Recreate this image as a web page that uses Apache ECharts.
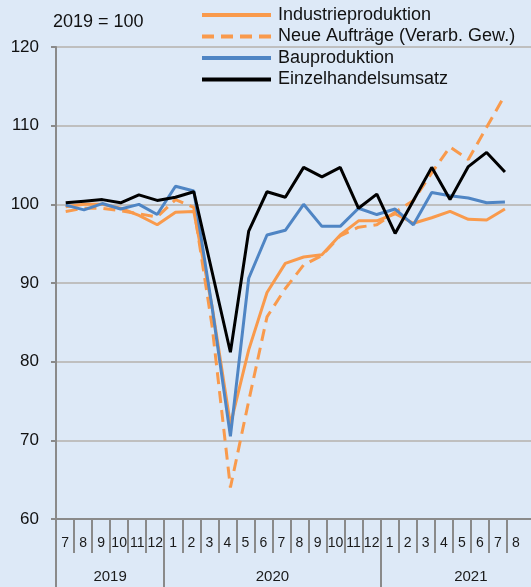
<!DOCTYPE html>
<html>
<head>
<meta charset="utf-8">
<script src="https://cdn.jsdelivr.net/npm/echarts@6/dist/echarts.min.js"></script>
<style>
  html, body { margin: 0; padding: 0; background: #dde9f7; }
  #chart { width: 531px; height: 587px; }
</style>
</head>
<body>
<div id="chart"></div>
<script>
// Monatsachse (Juli 2019 bis Sept. 2021, rechts abgeschnitten)
const months = ['7', '8', '9', '10', '11', '12',
  '1', '2', '3', '4', '5', '6', '7', '8', '9', '10', '11', '12',
  '1', '2', '3', '4', '5', '6', '7', '8', '9'];
const years = ['2019', '2020', '2021'];
const yearSpan = [6, 12, 10]; // Monate je Jahr auf der Achse

// Werte 2019 = 100, Juli 2019 bis Juli 2021
const industrie = [99.7, 100.0, 100.0, 99.5, 98.6, 97.4, 99.0, 99.1, 87.0, 72.0, 81.5, 88.8, 92.5,
  93.3, 93.6, 96.1, 97.9, 97.9, 98.8, 97.6, 98.3, 99.1, 98.1, 98.0, 99.4];
const auftraege = [99.1, 99.5, 99.5, 99.2, 98.8, 98.4, 100.6, 99.6, 84.5, 64.0, 75.0, 85.7, 89.3,
  92.3, 93.5, 96.0, 97.1, 97.4, 99.0, 100.5, 104.0, 107.3, 105.7, 109.8, 113.9];
const bau = [99.9, 99.3, 100.1, 99.4, 100.0, 98.7, 102.3, 101.7, 86.9, 70.5, 90.6, 96.1, 96.7,
  100.0, 97.2, 97.2, 99.5, 98.7, 99.4, 97.4, 101.5, 101.1, 100.8, 100.2, 100.3];
const einzelhandel = [100.2, 100.4, 100.6, 100.2, 101.2, 100.5, 100.9, 101.6, 91.4, 81.2, 96.6, 101.6, 100.9,
  104.7, 103.5, 104.7, 99.5, 101.3, 96.3, 100.5, 104.7, 100.6, 104.8, 106.6, 104.1];

const seriesNames = ['Industrieproduktion', 'Neue Aufträge (Verarb. Gew.)', 'Bauproduktion', 'Einzelhandelsumsatz'];

const axisGray = '#8a8a8a';
const font = '"Liberation Sans", Arial, sans-serif';

// Jahresgrenzen und -mitten auf der Monatsskala
const yearBounds = [];
const yearCenters = [];
let acc = 0;
yearSpan.forEach((n) => {
  yearBounds.push(acc);
  yearCenters.push(acc + n / 2);
  acc += n;
});

const toPoints = (arr) => arr.map((v, i) => [i, v]);
// letzter Monat liegt ausserhalb des Bildes
const visibleMonth = (i) => i < months.length - 1;

const chart = echarts.init(document.getElementById('chart'), null, { renderer: 'canvas' });

const option = {
  animation: false,
  backgroundColor: '#dde9f7',
  textStyle: { fontFamily: font },
  title: {
    text: '2019 = 100',
    left: 53,
    top: 13,
    padding: 0,
    textStyle: { fontSize: 18, fontWeight: 'normal', color: '#111', fontFamily: font },
  },
  legend: {
    orient: 'vertical',
    left: 200,
    top: 6,
    padding: 0,
    itemWidth: 69,
    itemHeight: 14,
    itemGap: 3.5,
    data: seriesNames,
    itemStyle: { opacity: 0 },
    lineStyle: { width: 4 },
    textStyle: { fontSize: 18, color: '#111', lineHeight: 18, padding: [0, 0, 0, 2], fontFamily: font },
  },
  grid: {
    left: 56,
    width: 487,
    top: 47,
    bottom: 68,
    outerBoundsMode: 'none',
  },
  xAxis: [
    {
      // Monatsbeschriftung
      type: 'category',
      data: months,
      position: 'bottom',
      boundaryGap: true,
      axisLine: { show: true, onZero: false, lineStyle: { color: axisGray, width: 2 } },
      axisTick: { show: true, interval: visibleMonth, length: 34, lineStyle: { color: axisGray, width: 2 } },
      axisLabel: {
        interval: visibleMonth,
        fontSize: 14,
        margin: 17,
        color: '#1a1a1a',
      },
      splitLine: { show: false },
    },
    {
      // Jahresbeschriftung
      type: 'value',
      min: 0,
      max: months.length,
      position: 'bottom',
      axisLine: { show: false, onZero: false },
      axisTick: {
        show: true,
        length: 68,
        customValues: yearBounds,
        lineStyle: { color: axisGray, width: 2 },
      },
      axisLabel: {
        customValues: yearCenters,
        fontSize: 15,
        margin: 50,
        color: '#1a1a1a',
        formatter: (v) => years[yearCenters.indexOf(v)] || '',
      },
      splitLine: { show: false },
    },
    {
      // Datenachse (Monatsindex)
      type: 'value',
      show: false,
      min: -0.53,
      max: 26.08,
      axisLine: { onZero: false },
      splitLine: { show: false },
    },
  ],
  yAxis: {
    type: 'value',
    min: 60,
    max: 120,
    interval: 10,
    axisLine: { show: true, onZero: false, lineStyle: { color: axisGray, width: 2 } },
    axisTick: { show: true, length: 5, lineStyle: { color: axisGray, width: 2 } },
    axisLabel: { fontSize: 17, margin: 17, color: '#111' },
    splitLine: { show: true, lineStyle: { color: '#bfbfbf', width: 2 } },
  },
  series: [
    {
      name: seriesNames[0],
      type: 'line',
      xAxisIndex: 2,
      data: toPoints(industrie),
      symbol: 'none',
      lineStyle: { color: '#f99a4c', width: 3 },
      itemStyle: { color: '#f99a4c' },
    },
    {
      name: seriesNames[1],
      type: 'line',
      xAxisIndex: 2,
      data: toPoints(auftraege),
      symbol: 'none',
      lineStyle: { color: '#f99a4c', width: 3, type: [12, 7] },
      itemStyle: { color: '#f99a4c' },
    },
    {
      name: seriesNames[2],
      type: 'line',
      xAxisIndex: 2,
      data: toPoints(bau),
      symbol: 'none',
      lineStyle: { color: '#4f85c4', width: 3 },
      itemStyle: { color: '#4f85c4' },
    },
    {
      name: seriesNames[3],
      type: 'line',
      xAxisIndex: 2,
      data: toPoints(einzelhandel),
      symbol: 'none',
      lineStyle: { color: '#000000', width: 3 },
      itemStyle: { color: '#000000' },
    },
  ],
};

chart.setOption(option);
</script>
</body>
</html>
